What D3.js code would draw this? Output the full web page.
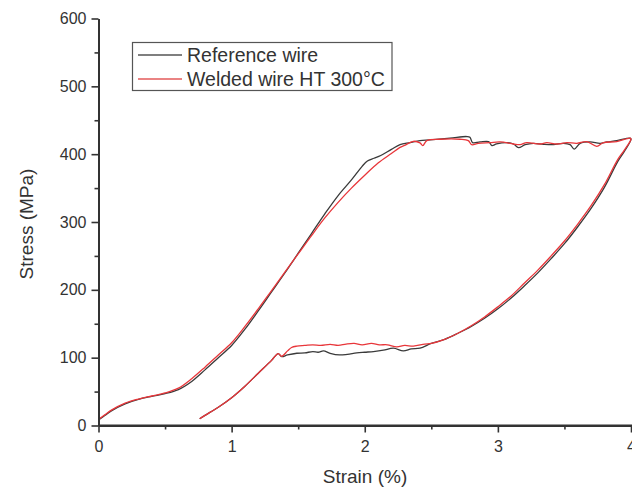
<!DOCTYPE html>
<html>
  <head>
    <meta charset="utf-8">
    <title>Stress strain</title>
    <script src="https://d3js.org/d3.v7.min.js" charset="utf-8"></script>
    <style>
      body { margin: 0; background: #fff; }
      text { font-family: "Liberation Sans", Arial, sans-serif; fill: #333; }
    </style>
  </head>
  <body>
    <div id="box"></div>
    <script>
      // data
      var refStrain = [0, 0.05, 0.1, 0.2, 0.3, 0.4, 0.5, 0.6, 0.7, 0.8, 0.9, 1.0, 1.1, 1.2, 1.3, 1.4, 1.5, 1.6, 1.7, 1.8, 1.9, 1.98, 2.02, 2.07, 2.12, 2.2, 2.265,
        2.34, 2.415, 2.49, 2.64, 2.766, 2.79, 2.81, 2.866, 2.93, 2.955, 2.99, 3.067, 3.117, 3.155, 3.205, 3.267, 3.342, 3.418, 3.493, 3.543, 3.573, 3.618, 3.693, 3.768, 3.818, 3.893, 3.993, 4.0,
        3.95, 3.9, 3.8, 3.7, 3.6, 3.5, 3.4, 3.3, 3.2, 3.1, 3.0, 2.9, 2.8, 2.7, 2.6, 2.5,
        2.415, 2.35, 2.29, 2.215, 2.14, 2.065, 2.0, 1.94, 1.87, 1.81, 1.74, 1.69, 1.65, 1.61, 1.55, 1.49, 1.42, 1.376, 1.35,
        1.3, 1.2, 1.1, 1.0, 0.9, 0.8, 0.76];
      var refStress = [8, 15, 22, 32, 38.5, 43, 47, 53, 65, 82, 100, 118, 142, 169, 197, 225, 254, 283, 312, 339, 362, 382, 390, 394, 398, 407, 414,
        417, 420, 421, 423.5, 426, 425, 417, 418, 418.5, 412.6, 415, 417, 415, 409.6, 414, 416, 414.5, 414, 416, 414, 407.5, 416, 418, 416, 418, 420, 423.5, 422,
        404, 389, 351, 320, 293, 268, 246, 225, 206, 188, 172, 158, 146, 136, 127, 121,
        114, 113, 110, 114, 111, 109, 108, 107, 105, 104, 106.5, 110, 108, 109, 107, 106.5, 104, 101.5, 106,
        96, 77, 58, 41, 27, 15, 10];

      var weldStrain = [0, 0.05, 0.1, 0.2, 0.3, 0.4, 0.5, 0.6, 0.7, 0.8, 0.9, 1.0, 1.1, 1.2, 1.3, 1.4, 1.5, 1.6, 1.7, 1.8, 1.9, 2.0, 2.1, 2.2, 2.265, 2.3,
        2.365, 2.415, 2.436, 2.466, 2.566, 2.716, 2.778, 2.803, 2.853, 2.94, 3.017, 3.117, 3.167, 3.217, 3.317, 3.367, 3.443, 3.518, 3.593, 3.668, 3.743, 3.793, 3.893, 3.993, 4.0,
        3.95, 3.9, 3.8, 3.7, 3.6, 3.5, 3.4, 3.3, 3.2, 3.1, 3.0, 2.9, 2.8, 2.7, 2.6, 2.5,
        2.45, 2.365, 2.3, 2.24, 2.17, 2.11, 2.05, 1.98, 1.92, 1.86, 1.8, 1.74, 1.67, 1.61, 1.55, 1.49, 1.45, 1.42, 1.376, 1.35,
        1.3, 1.2, 1.1, 1.0, 0.9, 0.8, 0.76];
      var weldStress = [9, 16, 23, 33, 39, 43.5, 48, 55, 69, 86, 104, 122, 146, 172, 199, 226, 253, 280, 306, 329, 350, 369, 387, 401, 410, 413,
        419, 416.6, 412.6, 420, 422, 422, 420, 414, 416, 417, 418, 415, 414, 417, 415, 417, 415, 417, 416, 418.5, 411.6, 417, 418.5, 423.5, 422,
        406, 392, 355, 324, 297, 272, 250, 229, 210, 191, 175, 160, 147, 136, 127, 121,
        120, 117, 118, 116, 119, 119, 121, 119, 121, 120, 118, 119.5, 118, 119, 118, 117, 115, 110, 102, 106,
        96, 77, 58, 41, 27, 15, 10];

      var seriesNames = ["Reference wire", "Welded wire HT 300°C"];
      var seriesColors = ["#3a3a3a", "#e8363a"];
      var xTicks = [0, 1, 2, 3, 4];
      var xMinor = [0.5, 1.5, 2.5, 3.5];
      var yTicks = [0, 100, 200, 300, 400, 500, 600];
      var yMinor = [50, 150, 250, 350, 450, 550];

      var width = 632, height = 488;
      var x = d3.scaleLinear().domain([0, 4]).range([98.5, 631]);
      var y = d3.scaleLinear().domain([0, 600]).range([425.5, 18.5]);

      var svg = d3.select("#box").append("svg")
        .attr("width", width)
        .attr("height", height)
        .style("display", "block");

      var series = [
        refStrain.map(function(d, i) { return [d, refStress[i]]; }),
        weldStrain.map(function(d, i) { return [d, weldStress[i]]; })
      ];

      var line = d3.line()
        .x(function(d) { return x(d[0]); })
        .y(function(d) { return y(d[1]); })
        .curve(d3.curveCatmullRom.alpha(0.5));

      svg.selectAll("path.curve")
        .data(series)
        .enter().append("path")
        .attr("class", "curve")
        .attr("d", line)
        .attr("fill", "none")
        .attr("stroke", function(d, i) { return seriesColors[i]; })
        .attr("stroke-width", 1.3);

      // axes
      function styleAxis(g) {
        g.selectAll(".domain").attr("stroke", "#333").attr("stroke-width", 2);
        g.selectAll(".tick line").attr("stroke", "#333").attr("stroke-width", 1.6);
        g.selectAll(".tick text").style("font-size", "16px").attr("fill", "#333");
      }

      svg.append("g")
        .attr("transform", "translate(0,425.5)")
        .call(d3.axisBottom(x).tickValues(xMinor).tickSize(4).tickSizeOuter(0).tickFormat(""))
        .call(styleAxis);
      svg.append("g")
        .attr("transform", "translate(0,425.5)")
        .call(d3.axisBottom(x).tickValues(xTicks).tickSize(7).tickSizeOuter(0).tickPadding(8).tickFormat(d3.format("d")))
        .call(styleAxis)
        .call(function(g) { g.select(".domain").attr("d", "M98.5,0H632"); });

      svg.append("g")
        .attr("transform", "translate(98.5,0)")
        .call(d3.axisLeft(y).tickValues(yMinor).tickSize(4).tickSizeOuter(0).tickFormat(""))
        .call(styleAxis);
      svg.append("g")
        .attr("transform", "translate(98.5,0)")
        .call(d3.axisLeft(y).tickValues(yTicks).tickSize(7).tickSizeOuter(0).tickPadding(5).tickFormat(d3.format("d")))
        .call(styleAxis);

      svg.append("text")
        .attr("x", 365)
        .attr("y", 483)
        .attr("text-anchor", "middle")
        .style("font-size", "19px")
        .text("Strain (%)");
      svg.append("text")
        .attr("transform", "translate(33,224) rotate(-90)")
        .attr("text-anchor", "middle")
        .style("font-size", "19px")
        .text("Stress (MPa)");

      // legend
      var legend = svg.append("g");
      legend.append("rect")
        .attr("x", 132.5).attr("y", 42.5)
        .attr("width", 259.5).attr("height", 48)
        .attr("fill", "#fff")
        .attr("stroke", "#555")
        .attr("stroke-width", 1.2);
      seriesNames.forEach(function(name, i) {
        var ly = 55 + i * 24;
        legend.append("line")
          .attr("x1", 138).attr("x2", 182)
          .attr("y1", ly).attr("y2", ly)
          .attr("stroke", i === 0 ? "#555" : "#e35a5a")
          .attr("stroke-width", 1.3);
        legend.append("text")
          .attr("x", 187)
          .attr("y", ly + 7)
          .style("font-size", "19.5px")
          .text(name);
      });
    </script>
  </body>
</html>
